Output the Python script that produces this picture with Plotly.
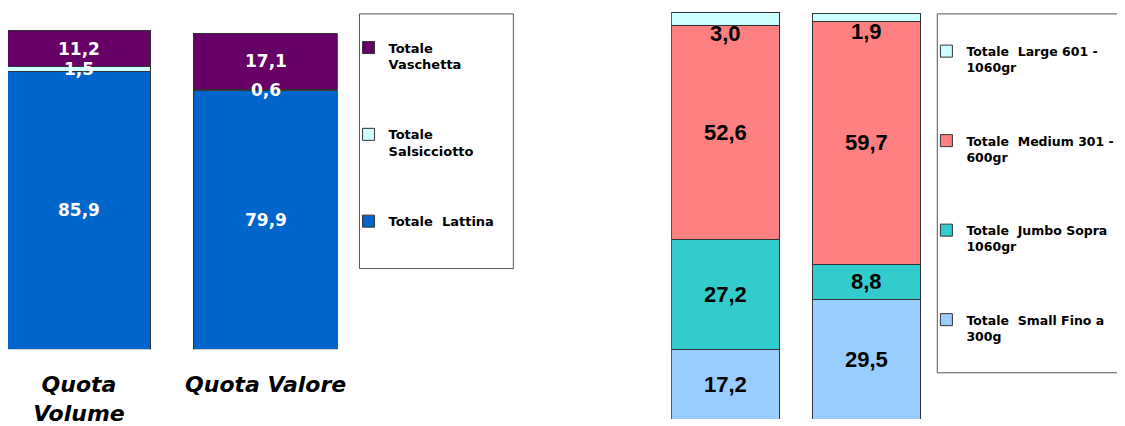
import plotly.graph_objects as go
import numpy as np

# The page body keeps the browser's default 8px margin: the figure starts at
# page pixel (8, 8); positions below are given in page pixels.
PAGE_W, PAGE_H = 1125, 426
OFF = 8
W, H = PAGE_W - OFF, PAGE_H - OFF

# ---------------- data ----------------
categories = ["Quota Volume", "Quota Valore"]
category_ticktext = ["Quota<br>Volume", "Quota Valore"]

# left chart (bottom -> top)
left_series = ["Totale  Lattina", "Totale Salsicciotto", "Totale Vaschetta"]
left_legend_text = ["Totale\u00a0 Lattina", "Totale<br>Salsicciotto", "Totale<br>Vaschetta"]
lattina = [85.9, 79.9]
salsicciotto = [1.5, 0.6]
vaschetta = [11.2, 17.1]
left_values = [lattina, salsicciotto, vaschetta]
left_colors = ["#0066CC", "#CCFFFF", "#660066"]

# right chart (bottom -> top)
right_series = ["Totale  Small Fino a 300g", "Totale  Jumbo Sopra 1060gr",
                "Totale  Medium 301 - 600gr", "Totale  Large 601 - 1060gr"]
right_legend_text = ["Totale\u00a0 Small Fino a<br>300g", "Totale\u00a0 Jumbo Sopra<br>1060gr",
                     "Totale\u00a0 Medium 301 -<br>600gr", "Totale\u00a0 Large 601 -<br>1060gr"]
small = [17.2, 29.5]
jumbo = [27.2, 8.8]
medium = [52.6, 59.7]
large = [3.0, 1.9]
right_values = [small, jumbo, medium, large]
right_colors = ["#99CCFF", "#33CCCC", "#FF8080", "#CCFFFF"]


def fmt(v):
    return f"{v:.1f}".replace(".", ",")


def px_x(x):
    return min(max((x - OFF) / W, 0), 1)


def px_y(y):
    return min(max(1 - (y - OFF) / H, 0), 1)


fig = go.Figure()
edge = dict(color="#333333", width=1)

n_left = len(left_series)
for i, (name, txt, vals, col) in enumerate(zip(left_series, left_legend_text, left_values, left_colors)):
    fig.add_trace(go.Bar(
        x=categories, y=vals, name=txt, marker=dict(color=col, line=edge),
        xaxis="x", yaxis="y", legend="legend", legendgroup=f"l{i}",
        legendrank=100 + (n_left - i), hoverinfo="name+y"))

n_right = len(right_series)
for i, (name, txt, vals, col) in enumerate(zip(right_series, right_legend_text, right_values, right_colors)):
    fig.add_trace(go.Bar(
        x=categories, y=vals, name=txt, marker=dict(color=col, line=edge),
        xaxis="x2", yaxis="y2", legend="legend2", legendgroup=f"r{i}",
        legendrank=100 + (n_right - i), hoverinfo="name+y"))

annotations = []
# left chart value labels (centred in each stacked segment)
cum = np.zeros(len(categories))
for vals in left_values:
    v = np.array(vals)
    mids = cum + v / 2
    for c, m, val in zip(categories, mids, v):
        annotations.append(dict(
            x=c, y=m, xref="x", yref="y", text=fmt(val), showarrow=False,
            font=dict(family="DejaVu Sans", size=17, color="white", weight="bold")))
    cum = cum + v

# right chart value labels
cum = np.zeros(len(categories))
for k, vals in enumerate(right_values):
    v = np.array(vals)
    mids = cum + v / 2
    for c, m, val in zip(categories, mids, v):
        annotations.append(dict(
            x=c, y=m, xref="x2", yref="y2", text=fmt(val), showarrow=False,
            yshift=-14 if k == len(right_values) - 1 else 0,
            font=dict(family="Liberation Sans", size=22, color="black", weight="bold")))
    cum = cum + v

shapes = [
    dict(type="rect", xref="paper", yref="paper",
         x0=px_x(362), x1=px_x(517), y0=px_y(273), y1=px_y(14),
         line=dict(color="#555555", width=1), fillcolor="rgba(0,0,0,0)"),
    dict(type="rect", xref="paper", yref="paper",
         x0=px_x(944), x1=1.01, y0=px_y(379), y1=px_y(14),
         line=dict(color="#555555", width=1), fillcolor="rgba(0,0,0,0)"),
]

# axis geometry (page pixels)
L_X0, L_X1, L_C0, L_STEP = 8, 340, 79.5, 188.0
R_X0, R_X1, R_C0, R_STEP = 676, 928, 730.5, 142.0
L_BASE, L_PPU = 355, 3.287
R_BASE, R_PPU = 427, 4.14
BOTTOM = OFF + H

fig.update_layout(
    width=W, height=H, autosize=False,
    margin=dict(l=0, r=0, t=0, b=0),
    paper_bgcolor="white", plot_bgcolor="white",
    barmode="stack", bargap=0.23,
    showlegend=True,
    xaxis=dict(domain=[px_x(L_X0), px_x(L_X1)],
               range=[(L_X0 - L_C0) / L_STEP, (L_X1 - L_C0) / L_STEP],
               type="category", tickvals=categories, ticktext=category_ticktext,
               showgrid=False, zeroline=False, showline=False, ticks="",
               ticklabelstandoff=20,
               tickfont=dict(family="DejaVu Sans", size=22, color="black",
                             weight="bold", style="italic")),
    yaxis=dict(domain=[px_y(L_BASE), 1], range=[0, (L_BASE - OFF) / L_PPU],
               showgrid=False, zeroline=False, showline=False, showticklabels=False),
    xaxis2=dict(domain=[px_x(R_X0), px_x(R_X1)],
                range=[(R_X0 - R_C0) / R_STEP, (R_X1 - R_C0) / R_STEP],
                type="category", showgrid=False, zeroline=False, showline=False,
                showticklabels=False, anchor="y2"),
    yaxis2=dict(domain=[0, 1], range=[(R_BASE - BOTTOM) / R_PPU, (R_BASE - OFF) / R_PPU],
                anchor="x2",
                showgrid=False, zeroline=False, showline=False, showticklabels=False),
    legend=dict(x=px_x(351), y=px_y(33), xanchor="left", yanchor="top",
                bgcolor="rgba(0,0,0,0)", borderwidth=0,
                traceorder="grouped", tracegroupgap=50, valign="top",
                itemwidth=30,
                font=dict(family="DejaVu Sans", size=13, color="black", weight="bold")),
    legend2=dict(x=px_x(933), y=px_y(37), xanchor="left", yanchor="top",
                 bgcolor="rgba(0,0,0,0)", borderwidth=0,
                 traceorder="grouped", tracegroupgap=54, valign="top",
                 itemwidth=30,
                 font=dict(family="DejaVu Sans", size=12.5, color="black", weight="bold")),
    annotations=annotations,
    shapes=shapes,
)

fig.write_html("out.html", config={"displayModeBar": False})
